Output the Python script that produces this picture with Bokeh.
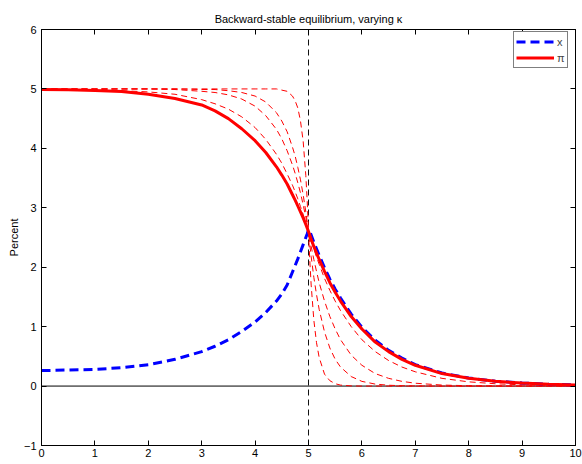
from bokeh.plotting import figure
from bokeh.models import LinearAxis, Span, Legend, LegendItem, Range1d, FixedTicker, CustomJSTickFormatter
from bokeh.embed import file_html
from bokeh.resources import INLINE

# ---- data ----
t = [0, 0.5, 1, 1.5, 2, 2.5, 3, 3.25, 3.5, 3.75,
     4, 4.2, 4.4, 4.5, 4.6, 4.7, 4.75, 4.8, 4.85, 4.9,
     4.95, 4.975, 5, 5.025, 5.05, 5.1, 5.15, 5.2, 5.3, 5.4,
     5.5, 5.6, 5.8, 6, 6.25, 6.5, 6.75, 7, 7.5, 8,
     8.5, 9, 9.5, 10]

x_gap = [0.26, 0.27, 0.28, 0.31, 0.36, 0.45, 0.58, 0.67, 0.78, 0.92,
         1.08, 1.24, 1.43, 1.55, 1.70, 1.92, 2.03, 2.14, 2.26, 2.38,
         2.50, 2.56, 2.63, 2.60, 2.54, 2.42, 2.31, 2.20, 1.99, 1.80,
         1.63, 1.48, 1.21, 0.99, 0.77, 0.60, 0.47, 0.36, 0.22, 0.135,
         0.083, 0.052, 0.032, 0.02]

pi_base = [4.99, 4.985, 4.975, 4.955, 4.91, 4.84, 4.73, 4.63, 4.50, 4.33,
           4.13, 3.93, 3.69, 3.55, 3.40, 3.22, 3.13, 3.03, 2.93, 2.83,
           2.72, 2.66, 2.60, 2.54, 2.47, 2.35, 2.24, 2.13, 1.93, 1.74,
           1.58, 1.43, 1.17, 0.96, 0.74, 0.58, 0.45, 0.35, 0.21, 0.13,
           0.08, 0.05, 0.03, 0.02]

pi_k1 = [5.00, 5.00, 5.00, 5.00, 5.00, 5.00, 5.00, 5.00, 5.00, 5.00,
         5.00, 5.00, 5.00, 4.98, 4.96, 4.88, 4.80, 4.68, 4.46, 4.12,
         3.54, 3.13, 2.60, 2.10, 1.70, 1.11, 0.73, 0.48, 0.20, 0.09,
         0.04, 0.016, 0.003, 0, 0, 0, 0, 0, 0, 0,
         0, 0, 0, 0]

pi_k2 = [5.00, 5.00, 5.00, 5.00, 5.00, 5.00, 4.99, 4.99, 4.97, 4.94,
         4.88, 4.78, 4.60, 4.46, 4.28, 4.02, 3.87, 3.68, 3.47, 3.22,
         2.93, 2.77, 2.60, 2.38, 2.18, 1.83, 1.54, 1.29, 0.91, 0.64,
         0.45, 0.32, 0.16, 0.079, 0.033, 0.014, 0.006, 0.002, 0, 0,
         0, 0, 0, 0]

pi_k3 = [5.00, 5.00, 5.00, 5.00, 5.00, 4.99, 4.96, 4.94, 4.90, 4.83,
         4.71, 4.55, 4.32, 4.16, 3.96, 3.72, 3.58, 3.42, 3.25, 3.05,
         2.84, 2.72, 2.60, 2.47, 2.35, 2.13, 1.93, 1.74, 1.43, 1.17,
         0.96, 0.78, 0.52, 0.35, 0.21, 0.13, 0.079, 0.048, 0.017, 0.006,
         0.002, 0.001, 0, 0]

pi_k4 = [5.00, 4.99, 4.99, 4.97, 4.95, 4.91, 4.82, 4.75, 4.66, 4.53,
         4.35, 4.15, 3.90, 3.75, 3.57, 3.38, 3.27, 3.15, 3.02, 2.89,
         2.75, 2.68, 2.60, 2.52, 2.45, 2.31, 2.17, 2.05, 1.81, 1.61,
         1.43, 1.27, 1.00, 0.78, 0.58, 0.43, 0.32, 0.24, 0.13, 0.071,
         0.039, 0.021, 0.012, 0.006]

kappa_paths = [pi_k1, pi_k2, pi_k3, pi_k4]

shock_end = 5
x_ticks = [0, 1, 2, 3, 4, 5, 6, 7, 8, 9, 10]
y_ticks = [-1, 0, 1, 2, 3, 4, 5, 6]
title_text = "Backward-stable equilibrium, varying \u03ba"
y_label = "Percent"
legend_labels = ["x", "\u03c0"]

FONT = "Liberation Sans"

p = figure(width=582, height=464, output_backend="svg", toolbar_location=None,
           x_range=Range1d(0, 10), y_range=Range1d(-1, 6),
           min_border_left=41, min_border_right=7, min_border_top=29, min_border_bottom=19)
p.background_fill_color = "white"
p.border_fill_color = "white"
p.outline_line_color = "black"
p.outline_line_width = 1
p.xgrid.visible = False
p.ygrid.visible = False

p.title.text = title_text
p.title.align = "center"
p.title.text_font = FONT
p.title.text_font_size = "11px"
p.title.text_font_style = "normal"
p.title.text_color = "black"

def style_axis(ax, ticks, labels=True):
    ax.ticker = FixedTicker(ticks=ticks)
    ax.major_tick_in = 5
    ax.major_tick_out = 0
    ax.minor_tick_line_color = None
    ax.axis_line_color = "black"
    ax.major_tick_line_color = "black"
    ax.major_label_text_font = FONT
    ax.major_label_text_font_size = "11px"
    ax.major_label_text_color = "black"
    if not labels:
        ax.major_label_text_font_size = "0px"
        ax.major_label_standoff = 0
        ax.formatter = CustomJSTickFormatter(code="return ''")

style_axis(p.xaxis[0], x_ticks)
style_axis(p.yaxis[0], y_ticks)
p.xaxis[0].major_label_standoff = 3
p.yaxis[0].major_label_standoff = 5
p.yaxis[0].axis_label = y_label
p.yaxis[0].axis_label_text_font = FONT
p.yaxis[0].axis_label_text_font_size = "11px"
p.yaxis[0].axis_label_text_font_style = "normal"
p.yaxis[0].axis_label_text_color = "black"
p.yaxis[0].axis_label_standoff = 1

top_ax = LinearAxis()
style_axis(top_ax, x_ticks, labels=False)
p.add_layout(top_ax, "above")
right_ax = LinearAxis()
style_axis(right_ax, y_ticks, labels=False)
p.add_layout(right_ax, "right")

# reference lines
p.add_layout(Span(location=shock_end, dimension="height", line_color="#111111",
                  line_width=1, line_dash="6 4", level="underlay"))
p.add_layout(Span(location=0, dimension="width", line_color="black",
                  line_width=1, level="underlay"))

for path in kappa_paths:
    p.line(t, path, line_color="#FF0000", line_width=1, line_dash="6 4")

r_x = p.line(t, x_gap, line_color="#0000FF", line_width=3, line_dash="9 5")
r_pi = p.line(t, pi_base, line_color="#FF0000", line_width=3)

legend = Legend(items=[LegendItem(label=legend_labels[0], renderers=[r_x]),
                       LegendItem(label=legend_labels[1], renderers=[r_pi])],
                location=(472, 377))
legend.label_text_font = FONT
legend.label_text_font_size = "11px"
legend.glyph_width = 38
legend.glyph_height = 15
legend.label_height = 15
legend.label_width = 6
legend.label_standoff = 3
legend.padding = 2
legend.spacing = 1
legend.margin = 0
legend.border_line_color = "black"
legend.border_line_width = 1
legend.background_fill_alpha = 1
p.add_layout(legend, "center")

open("out.html", "w").write(file_html(p, INLINE))
